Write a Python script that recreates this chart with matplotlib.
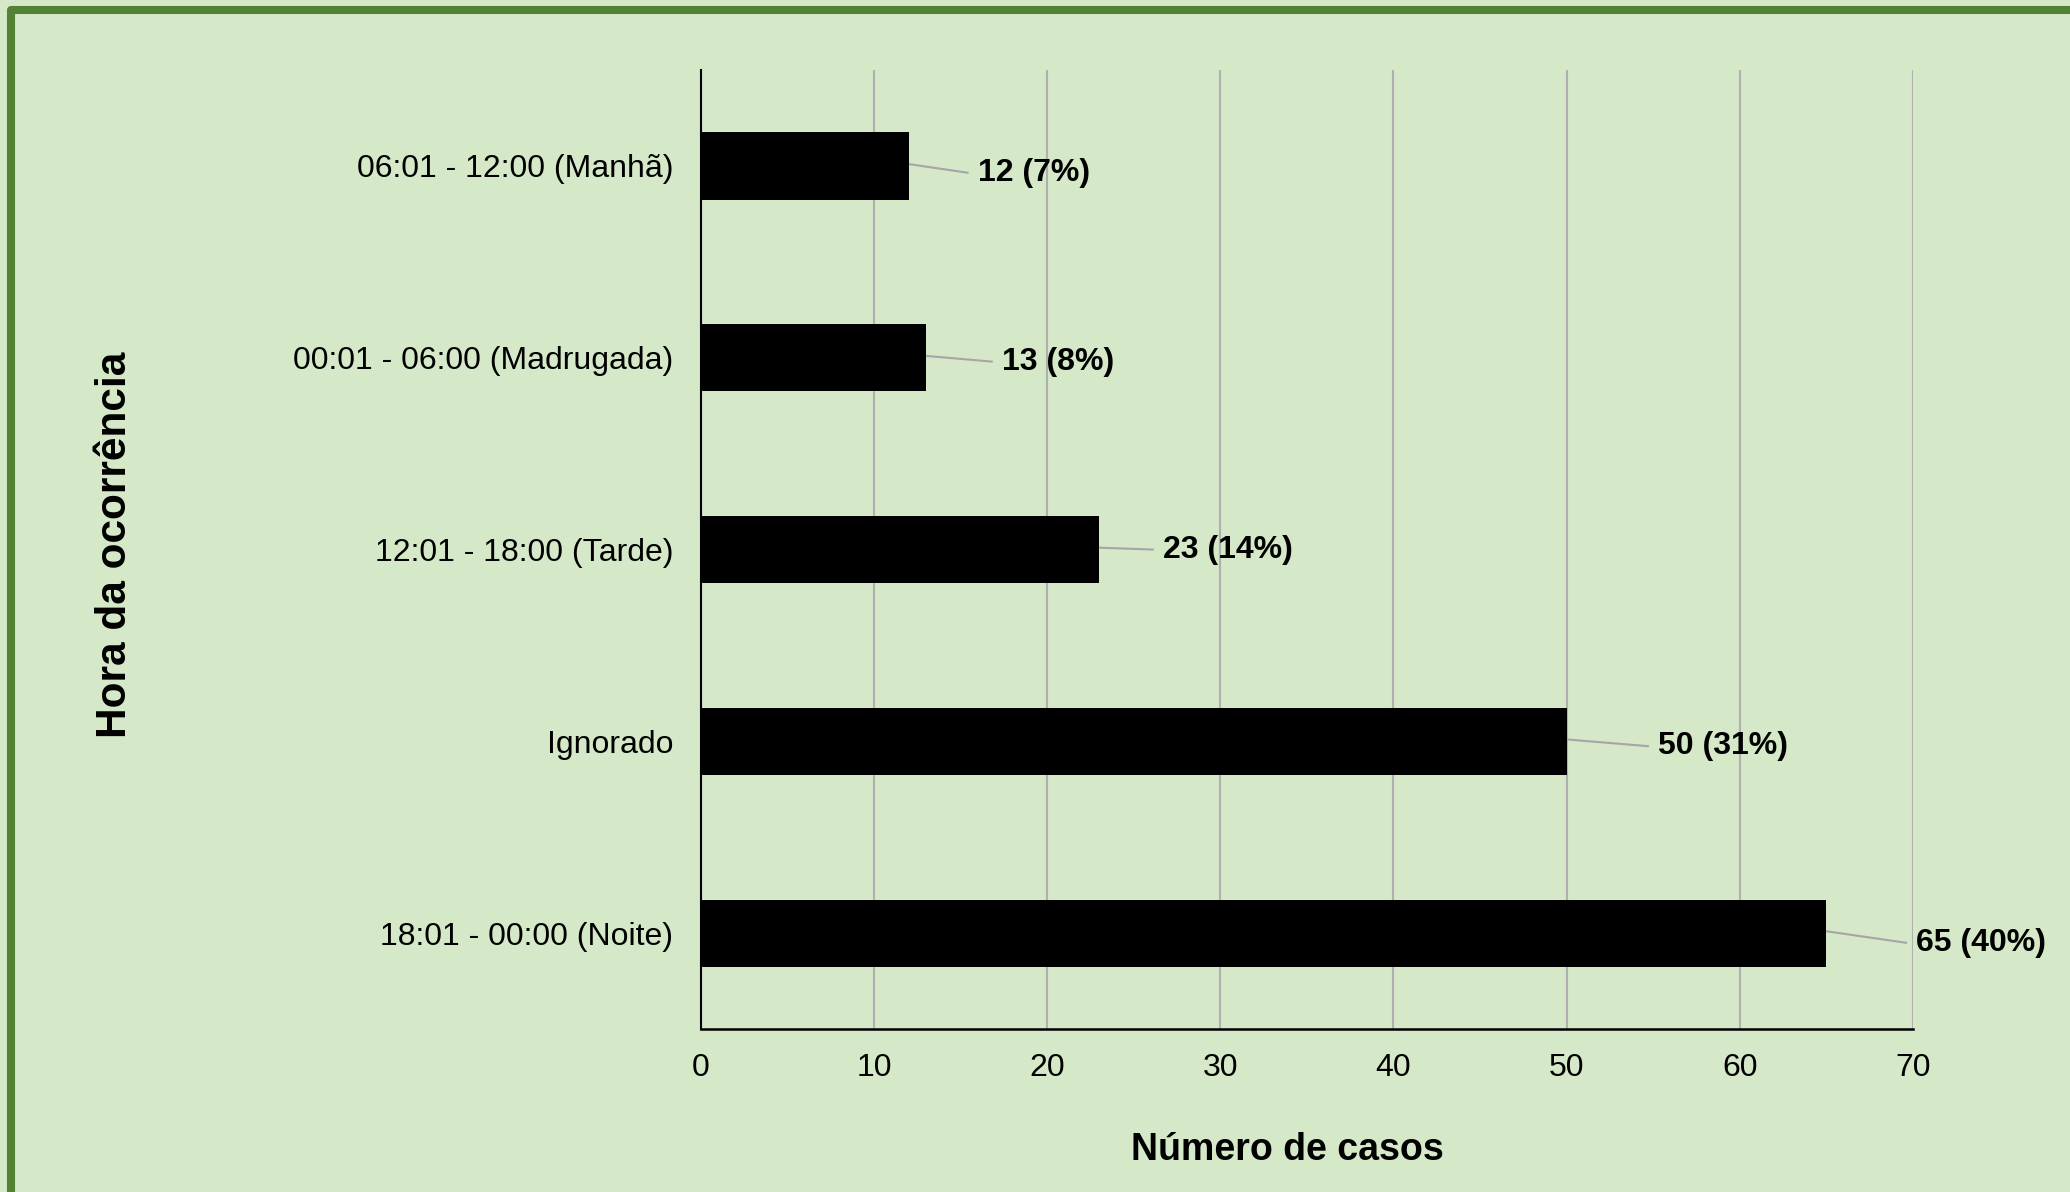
import matplotlib
matplotlib.use("Agg")
import matplotlib.pyplot as plt
from matplotlib.patches import Rectangle

plt.rcParams['font.family'] = ['Liberation Sans', 'DejaVu Sans']

# Data (bottom to top)
categories = ["18:01 - 00:00 (Noite)", "Ignorado", "12:01 - 18:00 (Tarde)",
              "00:01 - 06:00 (Madrugada)", "06:01 - 12:00 (Manhã)"]
values = [65, 50, 23, 13, 12]
percents = [40, 31, 14, 8, 7]
xticks = [0, 10, 20, 30, 40, 50, 60, 70]

# label placement (styling)
label_dx = [5.2, 5.3, 3.7, 4.4, 4.0]
label_dy = [-0.05, -0.025, 0.0, -0.02, -0.035]

bg = "#D5E8C7"
fig = plt.figure(figsize=(20.7, 11.92), dpi=100, facecolor=bg)
ax = fig.add_axes([0.3386, 0.1367, 0.5855, 0.8045], facecolor=bg)

ypos = list(range(len(categories)))
ax.barh(ypos, values, height=0.35, color="black", zorder=3)

for y, v, p, dx, dy in zip(ypos, values, percents, label_dx, label_dy):
    tx = v + dx
    ty = y + dy
    ax.plot([v, tx - 0.6], [y + 0.01, ty], color="#A6A6A6", lw=1.5, zorder=2, clip_on=False)
    ax.text(tx, ty, f"{v} ({p}%)", fontsize=23, fontweight="bold",
            va="center", ha="left", color="black", clip_on=False)

ax.set_xlim(0, 70)
ax.set_ylim(-0.5, len(categories) - 0.5)
ax.set_xticks(xticks)
ax.set_yticks(ypos)
ax.set_yticklabels(categories)
ax.tick_params(axis='both', length=0, labelsize=23, colors="black")
ax.tick_params(axis='x', pad=17)
ax.tick_params(axis='y', pad=20)
ax.xaxis.grid(True, color="#B0B0B0", lw=1.5, zorder=0)
ax.set_axisbelow(True)
for s in ["top", "right"]:
    ax.spines[s].set_visible(False)
ax.spines["left"].set_color("black")
ax.spines["bottom"].set_color("black")
ax.spines["left"].set_linewidth(1.5)
ax.spines["bottom"].set_linewidth(1.8)
ax.spines["left"].set_zorder(4)

ax.set_xlabel("Número de casos", fontsize=27, fontweight="bold")
ax.xaxis.set_label_coords(0.4835, -0.126)
ax.xaxis.label.set_va("center")
fig.text(115 / 2070, 1 - 545 / 1192, "Hora da ocorrência", rotation=90,
         fontsize=30.5, fontweight="bold", ha="center", va="center")

# border (top and left visible)
fig.patches.append(Rectangle((11 / 2070, -0.2), 1.3, 1.2 - 10 / 1192,
                             transform=fig.transFigure, fill=False,
                             edgecolor="#538135", lw=5.8, joinstyle="round"))

fig.savefig("out.png", dpi=100, facecolor=bg)
